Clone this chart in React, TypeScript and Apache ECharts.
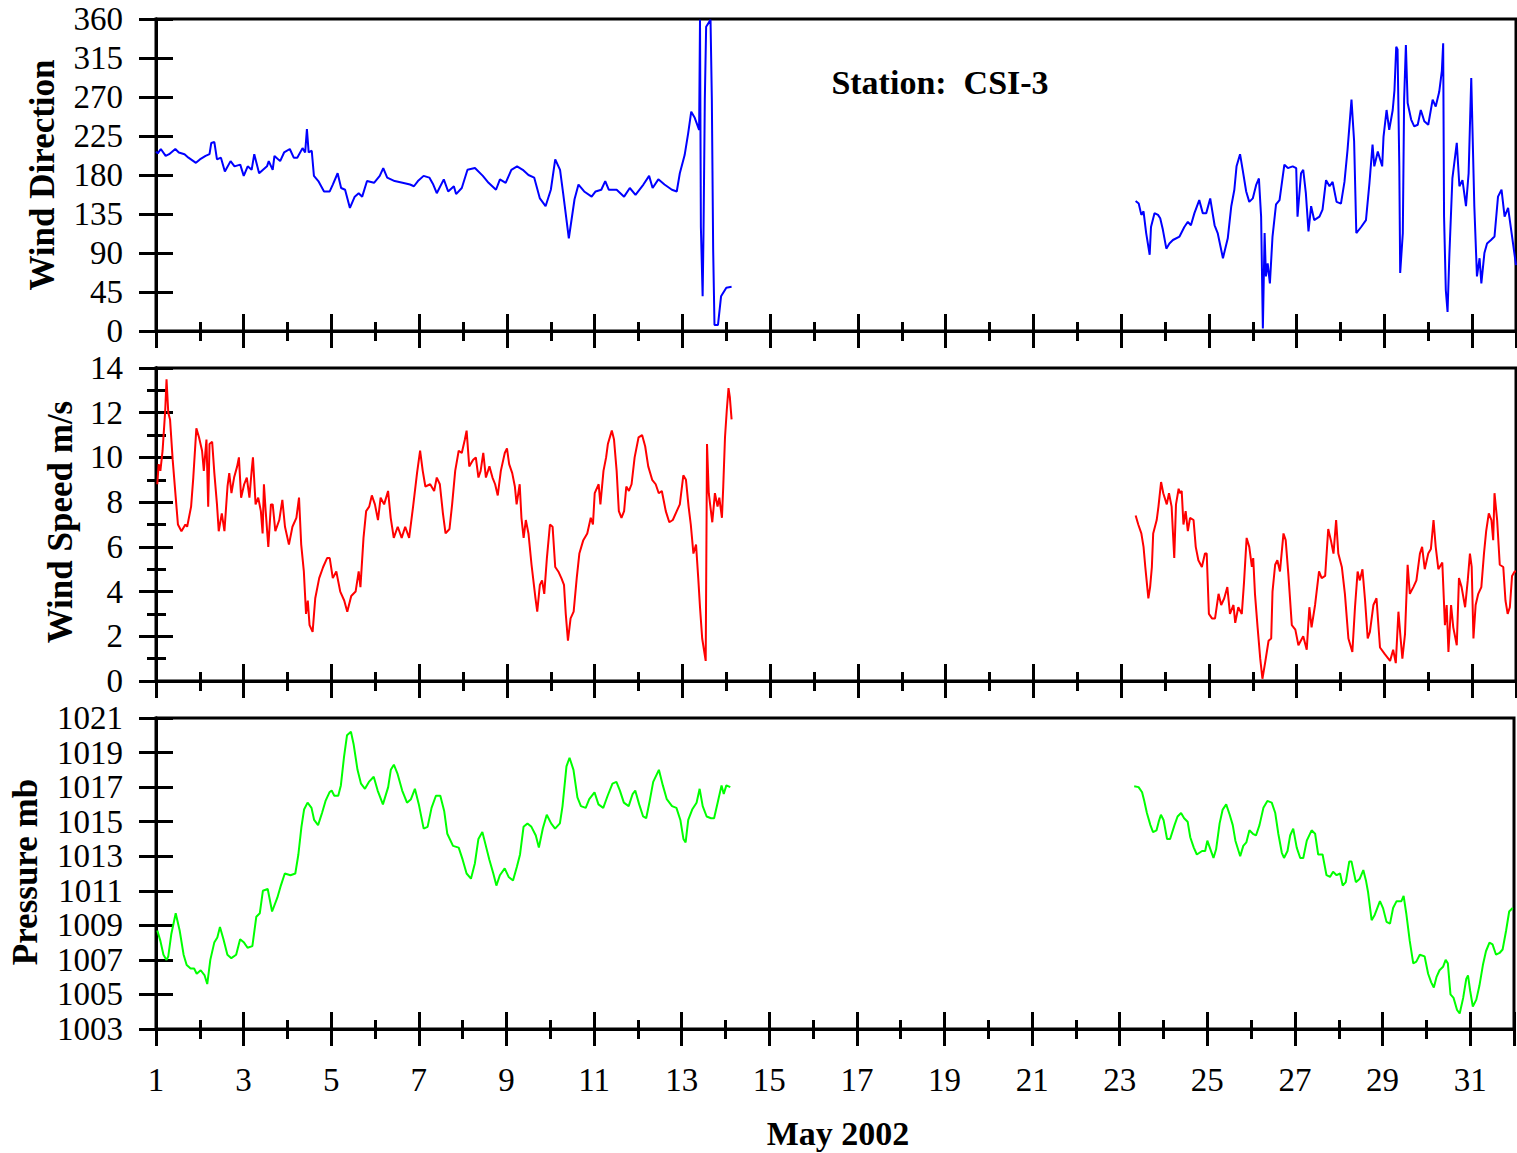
import React, { useEffect, useRef } from "react";
import * as echarts from "echarts";

const FONT = "'Liberation Serif', 'Times New Roman', Times, serif";

// x axis: days of May 2002
const DAY_MIN = 1;
const DAY_MAX = 32;

// Wind direction (deg) [day, value]
const dirA: number[][] = [
  [1.0, 207], [1.04, 205], [1.11, 210], [1.22, 202], [1.3, 204], [1.44, 210], [1.52, 206], [1.65, 204], [1.74, 200], [1.91, 194],
  [2.0, 198], [2.13, 202], [2.22, 204], [2.26, 217], [2.33, 218], [2.39, 198], [2.48, 200], [2.57, 184], [2.7, 196], [2.79, 190],
  [2.92, 192], [3.0, 179], [3.09, 190], [3.18, 186], [3.24, 204], [3.35, 182], [3.44, 186], [3.53, 190], [3.57, 196], [3.66, 186],
  [3.7, 202], [3.83, 196], [3.92, 206], [4.05, 210], [4.14, 200], [4.22, 200], [4.34, 211], [4.4, 206], [4.44, 233], [4.48, 206],
  [4.55, 208], [4.6, 179], [4.7, 173], [4.83, 161], [4.96, 161], [5.03, 169], [5.14, 182], [5.22, 165], [5.31, 163], [5.42, 142],
  [5.53, 155], [5.62, 159], [5.7, 155], [5.81, 173], [5.97, 171], [6.1, 179], [6.18, 188], [6.27, 177], [6.44, 173], [6.62, 171],
  [6.79, 169], [6.88, 167], [6.97, 173], [7.1, 179], [7.23, 177], [7.32, 169], [7.4, 159], [7.56, 175], [7.66, 161], [7.79, 167],
  [7.84, 158], [7.97, 165], [8.1, 186], [8.27, 188], [8.45, 179], [8.58, 171], [8.75, 163], [8.84, 175], [8.97, 171], [9.1, 186],
  [9.23, 190], [9.36, 186], [9.49, 180], [9.62, 177], [9.75, 153], [9.88, 144], [10.0, 163], [10.1, 198], [10.21, 186], [10.28, 159],
  [10.41, 107], [10.54, 152], [10.63, 169], [10.76, 161], [10.93, 155], [11.02, 161], [11.15, 163], [11.24, 173], [11.32, 163], [11.5, 163],
  [11.67, 155], [11.8, 165], [11.93, 157], [12.11, 169], [12.24, 179], [12.32, 165], [12.45, 175], [12.59, 169], [12.76, 163], [12.87, 161],
  [12.94, 182], [13.05, 203], [13.13, 228], [13.2, 253], [13.28, 246], [13.38, 232], [13.4, 359], [13.42, 120], [13.46, 40], [13.48, 113],
  [13.51, 267], [13.54, 351], [13.64, 359], [13.67, 267], [13.7, 94], [13.73, 7], [13.81, 7], [13.88, 40], [14.0, 50], [14.12, 51],
];
const dirB: number[][] = [
  [23.33, 150], [23.4, 147], [23.46, 134], [23.51, 138], [23.57, 113], [23.65, 88], [23.68, 120], [23.76, 136], [23.84, 134], [23.89, 130],
  [23.95, 117], [24.03, 95], [24.1, 101], [24.18, 105], [24.33, 109], [24.44, 120], [24.52, 126], [24.59, 122], [24.67, 136], [24.78, 151],
  [24.86, 136], [24.94, 136], [25.03, 153], [25.13, 122], [25.2, 113], [25.32, 84], [25.43, 107], [25.51, 144], [25.58, 163], [25.63, 190],
  [25.71, 204], [25.77, 186], [25.85, 161], [25.92, 149], [26.0, 153], [26.08, 169], [26.14, 176], [26.19, 132], [26.23, 3], [26.27, 113],
  [26.3, 63], [26.34, 78], [26.39, 55], [26.45, 109], [26.53, 146], [26.61, 151], [26.72, 192], [26.8, 188], [26.91, 190], [26.99, 188],
  [27.02, 132], [27.1, 182], [27.15, 186], [27.21, 159], [27.27, 115], [27.33, 144], [27.4, 128], [27.52, 132], [27.59, 140], [27.67, 174],
  [27.75, 167], [27.82, 172], [27.91, 149], [28.01, 147], [28.09, 172], [28.16, 209], [28.25, 267], [28.31, 219], [28.36, 113], [28.47, 120],
  [28.58, 128], [28.66, 171], [28.73, 215], [28.77, 190], [28.85, 207], [28.95, 190], [28.98, 224], [29.05, 255], [29.11, 232], [29.19, 255],
  [29.23, 278], [29.27, 328], [29.3, 325], [29.34, 190], [29.36, 67], [29.42, 113], [29.45, 267], [29.49, 330], [29.53, 263], [29.61, 244],
  [29.68, 236], [29.76, 238], [29.83, 255], [29.91, 242], [30.0, 238], [30.1, 267], [30.17, 259], [30.25, 276], [30.31, 300], [30.34, 332],
  [30.36, 132], [30.4, 47], [30.44, 22], [30.48, 86], [30.55, 176], [30.65, 217], [30.71, 167], [30.78, 174], [30.86, 144], [30.92, 182],
  [30.98, 292], [31.05, 144], [31.11, 63], [31.17, 84], [31.21, 55], [31.28, 90], [31.34, 101], [31.43, 105], [31.51, 109], [31.59, 155],
  [31.67, 163], [31.74, 132], [31.82, 142], [31.9, 113], [32.0, 76],
];

// Wind speed (m/s) [day, value]
const spdA: number[][] = [
  [1.03, 8.8], [1.06, 9.7], [1.1, 9.4], [1.15, 10.3], [1.18, 11.2], [1.21, 12.1], [1.24, 13.5], [1.28, 12.0], [1.32, 11.7], [1.38, 9.9],
  [1.45, 8.2], [1.5, 7.0], [1.58, 6.7], [1.67, 7.0], [1.71, 6.9], [1.8, 7.8], [1.85, 9.1], [1.92, 11.3], [1.98, 10.9], [2.05, 10.3],
  [2.09, 9.4], [2.15, 10.8], [2.19, 7.8], [2.22, 10.6], [2.28, 10.7], [2.33, 9.3], [2.39, 7.9], [2.43, 6.7], [2.5, 7.5], [2.56, 6.7],
  [2.63, 8.7], [2.67, 9.3], [2.72, 8.4], [2.78, 9.1], [2.85, 9.6], [2.89, 10.0], [2.94, 8.2], [3.01, 8.8], [3.07, 9.1], [3.13, 8.2],
  [3.18, 9.4], [3.21, 10.0], [3.27, 7.9], [3.33, 8.2], [3.39, 7.6], [3.43, 6.6], [3.46, 8.8], [3.5, 7.6], [3.56, 6.0], [3.62, 7.9],
  [3.66, 7.9], [3.72, 6.7], [3.81, 7.2], [3.88, 8.1], [3.94, 6.9], [4.03, 6.1], [4.11, 6.9], [4.2, 7.3], [4.26, 8.2], [4.31, 6.1],
  [4.37, 4.9], [4.42, 3.0], [4.46, 3.6], [4.5, 2.5], [4.57, 2.2], [4.63, 3.7], [4.72, 4.6], [4.81, 5.1], [4.9, 5.5], [4.96, 5.5],
  [5.03, 4.6], [5.11, 4.9], [5.2, 4.0], [5.29, 3.6], [5.36, 3.1], [5.45, 3.8], [5.55, 4.0], [5.62, 4.9], [5.66, 4.2], [5.73, 6.4],
  [5.79, 7.6], [5.86, 7.8], [5.92, 8.3], [5.99, 7.9], [6.06, 7.2], [6.12, 8.2], [6.2, 7.9], [6.29, 8.5], [6.35, 7.3], [6.42, 6.4],
  [6.51, 6.9], [6.6, 6.4], [6.68, 6.9], [6.77, 6.4], [6.86, 7.8], [6.95, 9.3], [7.02, 10.3], [7.08, 9.4], [7.14, 8.7], [7.25, 8.8],
  [7.34, 8.5], [7.4, 9.1], [7.47, 8.8], [7.54, 7.5], [7.6, 6.6], [7.69, 6.8], [7.75, 7.9], [7.82, 9.4], [7.9, 10.3], [7.97, 10.2],
  [8.04, 10.8], [8.08, 11.2], [8.14, 9.6], [8.23, 9.9], [8.29, 10.0], [8.35, 9.1], [8.4, 9.4], [8.46, 10.2], [8.52, 9.1], [8.6, 9.6],
  [8.67, 9.1], [8.73, 8.8], [8.79, 8.3], [8.86, 9.4], [8.95, 10.2], [9.0, 10.4], [9.05, 9.7], [9.12, 9.3], [9.18, 8.7], [9.22, 7.9],
  [9.29, 8.8], [9.33, 7.3], [9.38, 6.4], [9.43, 7.2], [9.49, 6.6], [9.56, 5.2], [9.65, 3.7], [9.69, 3.1], [9.75, 4.3], [9.8, 4.5],
  [9.85, 3.9], [9.91, 5.5], [9.98, 7.0], [10.04, 6.9], [10.1, 5.1], [10.17, 4.9], [10.24, 4.6], [10.3, 4.3], [10.34, 3.0], [10.39, 1.8],
  [10.45, 2.8], [10.52, 3.1], [10.59, 4.6], [10.65, 5.7], [10.74, 6.3], [10.83, 6.6], [10.91, 7.3], [10.96, 7.0], [11.0, 8.4], [11.09, 8.8],
  [11.13, 7.9], [11.2, 9.4], [11.26, 10.0], [11.3, 10.6], [11.39, 11.2], [11.44, 10.8], [11.5, 9.4], [11.55, 7.6], [11.61, 7.3], [11.67, 7.6],
  [11.72, 8.7], [11.78, 8.5], [11.84, 8.8], [11.91, 10.0], [12.0, 10.9], [12.08, 11.0], [12.15, 10.5], [12.22, 9.6], [12.31, 9.0], [12.39, 8.8],
  [12.46, 8.4], [12.53, 8.5], [12.62, 7.6], [12.7, 7.1], [12.78, 7.2], [12.87, 7.6], [12.94, 7.9], [13.02, 9.2], [13.08, 9.0], [13.14, 7.8],
  [13.19, 7.0], [13.25, 5.7], [13.31, 6.1], [13.36, 4.6], [13.4, 3.3], [13.45, 1.9], [13.53, 0.9], [13.56, 10.6], [13.6, 8.4], [13.68, 7.1],
  [13.74, 8.4], [13.8, 7.8], [13.84, 8.2], [13.9, 7.3], [13.93, 8.7], [13.97, 10.9], [14.01, 12.1], [14.05, 13.1], [14.08, 12.7], [14.12, 11.7],
];
const spdB: number[][] = [
  [23.33, 7.4], [23.39, 7.0], [23.46, 6.6], [23.51, 6.0], [23.55, 5.1], [23.58, 4.5], [23.62, 3.7], [23.66, 4.2], [23.7, 5.1], [23.73, 6.6],
  [23.81, 7.2], [23.85, 7.8], [23.91, 8.9], [23.96, 8.4], [24.04, 7.9], [24.09, 8.4], [24.15, 7.8], [24.21, 5.5], [24.25, 7.9], [24.31, 8.6],
  [24.34, 8.4], [24.38, 8.5], [24.42, 7.0], [24.47, 7.6], [24.52, 6.7], [24.57, 7.3], [24.65, 7.2], [24.7, 6.0], [24.76, 5.4], [24.84, 5.1],
  [24.91, 5.7], [24.95, 5.7], [25.0, 3.0], [25.07, 2.8], [25.14, 2.8], [25.22, 3.9], [25.28, 3.4], [25.35, 3.7], [25.42, 4.2], [25.48, 3.0],
  [25.56, 3.4], [25.6, 2.6], [25.67, 3.3], [25.75, 3.0], [25.8, 4.4], [25.86, 6.4], [25.92, 6.0], [25.98, 5.1], [26.01, 5.5], [26.05, 3.9],
  [26.11, 2.4], [26.17, 1.0], [26.22, 0.1], [26.28, 0.8], [26.36, 1.8], [26.42, 1.9], [26.45, 4.0], [26.51, 5.2], [26.56, 5.4], [26.62, 4.9],
  [26.7, 6.6], [26.75, 6.3], [26.81, 4.8], [26.89, 2.5], [26.97, 2.3], [27.04, 1.6], [27.15, 2.0], [27.23, 1.4], [27.29, 3.3], [27.34, 2.4],
  [27.42, 3.4], [27.51, 4.9], [27.57, 4.6], [27.65, 4.7], [27.72, 6.8], [27.78, 6.3], [27.84, 5.7], [27.9, 7.2], [27.95, 5.7], [28.03, 5.1],
  [28.1, 3.9], [28.18, 1.9], [28.27, 1.3], [28.33, 3.3], [28.39, 4.9], [28.44, 4.5], [28.5, 5.0], [28.56, 3.6], [28.62, 1.9], [28.67, 2.2],
  [28.75, 3.4], [28.82, 3.7], [28.9, 1.5], [29.01, 1.2], [29.13, 0.9], [29.2, 1.4], [29.26, 0.8], [29.32, 3.1], [29.37, 1.9], [29.41, 1.0],
  [29.47, 2.1], [29.53, 5.2], [29.58, 3.9], [29.66, 4.2], [29.73, 4.5], [29.81, 5.7], [29.86, 6.0], [29.92, 5.0], [30.0, 5.7], [30.06, 5.9],
  [30.12, 7.2], [30.17, 6.0], [30.23, 5.0], [30.32, 5.3], [30.38, 2.5], [30.42, 3.4], [30.46, 1.3], [30.52, 3.4], [30.57, 2.4], [30.65, 1.6],
  [30.7, 4.6], [30.76, 4.2], [30.84, 3.3], [30.9, 4.5], [30.95, 5.7], [30.99, 5.1], [31.03, 1.9], [31.08, 3.4], [31.14, 3.9], [31.21, 4.2],
  [31.27, 5.7], [31.32, 6.7], [31.38, 7.5], [31.44, 7.2], [31.48, 6.3], [31.51, 8.4], [31.57, 7.2], [31.63, 5.2], [31.71, 5.1], [31.76, 3.6],
  [31.81, 3.0], [31.86, 3.3], [31.91, 4.7], [31.97, 4.9], [32.0, 4.9],
];

// Pressure (mb) [day, value]
const presA: number[][] = [
  [1.03, 1008.7], [1.1, 1008.1], [1.17, 1007.3], [1.24, 1007.0], [1.28, 1007.2], [1.35, 1008.5], [1.45, 1009.7], [1.54, 1008.7], [1.63, 1007.3], [1.7, 1006.7],
  [1.79, 1006.5], [1.87, 1006.5], [1.93, 1006.2], [2.02, 1006.4], [2.11, 1006.1], [2.17, 1005.6], [2.24, 1007.0], [2.33, 1008.0], [2.4, 1008.3], [2.46, 1008.9],
  [2.54, 1008.2], [2.63, 1007.3], [2.72, 1007.1], [2.83, 1007.3], [2.92, 1008.2], [3.01, 1008.0], [3.09, 1007.7], [3.2, 1007.8], [3.29, 1009.5], [3.37, 1009.7],
  [3.44, 1011.0], [3.55, 1011.1], [3.65, 1009.8], [3.77, 1010.6], [3.85, 1011.3], [3.94, 1012.0], [4.07, 1011.9], [4.18, 1012.0], [4.25, 1013.1], [4.32, 1014.7],
  [4.38, 1015.7], [4.46, 1016.1], [4.55, 1015.8], [4.61, 1015.1], [4.7, 1014.8], [4.79, 1015.5], [4.87, 1016.2], [4.96, 1016.7], [5.01, 1016.8], [5.07, 1016.5],
  [5.16, 1016.5], [5.22, 1017.1], [5.29, 1018.7], [5.36, 1020.0], [5.45, 1020.2], [5.51, 1019.5], [5.6, 1018.0], [5.68, 1017.2], [5.77, 1016.9], [5.86, 1017.3],
  [5.97, 1017.6], [6.06, 1016.8], [6.18, 1016.0], [6.3, 1017.0], [6.36, 1018.0], [6.43, 1018.3], [6.51, 1017.8], [6.62, 1016.8], [6.73, 1016.1], [6.82, 1016.3],
  [6.91, 1016.9], [7.0, 1016.0], [7.11, 1014.6], [7.2, 1014.7], [7.29, 1015.8], [7.39, 1016.5], [7.49, 1016.5], [7.58, 1015.6], [7.65, 1014.3], [7.78, 1013.6],
  [7.91, 1013.5], [8.0, 1012.8], [8.09, 1012.0], [8.19, 1011.7], [8.28, 1012.6], [8.36, 1014.0], [8.45, 1014.4], [8.52, 1013.7], [8.61, 1012.8], [8.7, 1012.0],
  [8.77, 1011.3], [8.85, 1011.9], [8.96, 1012.3], [9.05, 1011.8], [9.15, 1011.6], [9.24, 1012.4], [9.31, 1013.1], [9.39, 1014.7], [9.48, 1014.9], [9.57, 1014.7],
  [9.67, 1014.2], [9.74, 1013.5], [9.83, 1014.6], [9.92, 1015.4], [10.02, 1014.9], [10.11, 1014.6], [10.22, 1014.9], [10.28, 1015.9], [10.37, 1018.2], [10.44, 1018.7],
  [10.53, 1018.0], [10.62, 1016.4], [10.7, 1015.9], [10.81, 1015.8], [10.89, 1016.3], [11.01, 1016.7], [11.1, 1016.0], [11.21, 1015.8], [11.31, 1016.5], [11.42, 1017.2],
  [11.51, 1017.3], [11.59, 1016.8], [11.68, 1016.1], [11.79, 1015.9], [11.88, 1016.6], [11.94, 1016.8], [12.03, 1016.0], [12.12, 1015.3], [12.19, 1015.2], [12.27, 1016.2],
  [12.35, 1017.3], [12.48, 1018.0], [12.57, 1017.1], [12.66, 1016.3], [12.78, 1015.9], [12.88, 1015.8], [12.97, 1015.1], [13.04, 1014.0], [13.09, 1013.8], [13.15, 1015.1],
  [13.24, 1015.7], [13.34, 1016.1], [13.41, 1016.9], [13.48, 1015.9], [13.57, 1015.3], [13.67, 1015.2], [13.74, 1015.2], [13.83, 1016.2], [13.91, 1017.1], [13.96, 1016.6],
  [14.02, 1017.1], [14.11, 1017.0],
];
const presB: number[][] = [
  [23.33, 1017.05], [23.43, 1017.0], [23.51, 1016.7], [23.56, 1016.2], [23.62, 1015.5], [23.7, 1014.8], [23.76, 1014.4], [23.84, 1014.5], [23.89, 1015.0], [23.94, 1015.4],
  [24.0, 1015.1], [24.08, 1014.0], [24.15, 1014.0], [24.25, 1014.8], [24.32, 1015.3], [24.4, 1015.5], [24.47, 1015.2], [24.55, 1015.0], [24.61, 1014.1], [24.69, 1013.5],
  [24.76, 1013.1], [24.88, 1013.3], [24.95, 1013.3], [25.0, 1013.9], [25.07, 1013.4], [25.14, 1012.9], [25.2, 1013.4], [25.28, 1014.9], [25.35, 1015.7], [25.43, 1016.0],
  [25.51, 1015.4], [25.58, 1014.8], [25.64, 1013.9], [25.75, 1013.0], [25.82, 1013.6], [25.89, 1013.8], [25.96, 1014.5], [26.04, 1014.3], [26.11, 1014.2], [26.19, 1014.8],
  [26.28, 1015.8], [26.37, 1016.2], [26.47, 1016.1], [26.55, 1015.5], [26.62, 1014.3], [26.7, 1013.2], [26.75, 1012.9], [26.83, 1013.3], [26.89, 1014.2], [26.96, 1014.6],
  [27.04, 1013.5], [27.12, 1012.9], [27.19, 1012.9], [27.27, 1013.9], [27.38, 1014.5], [27.46, 1014.3], [27.53, 1013.1], [27.63, 1013.1], [27.72, 1011.9], [27.8, 1011.8],
  [27.87, 1012.1], [27.95, 1011.9], [28.03, 1012.0], [28.09, 1011.3], [28.16, 1011.5], [28.24, 1012.7], [28.29, 1012.7], [28.39, 1011.5], [28.48, 1011.7], [28.56, 1012.2],
  [28.62, 1011.6], [28.67, 1010.9], [28.75, 1009.3], [28.82, 1009.6], [28.94, 1010.4], [29.01, 1010.0], [29.09, 1009.2], [29.17, 1009.1], [29.24, 1010.0], [29.32, 1010.4],
  [29.43, 1010.4], [29.48, 1010.7], [29.54, 1009.7], [29.62, 1008.1], [29.7, 1006.8], [29.77, 1006.9], [29.85, 1007.3], [29.96, 1007.2], [30.04, 1006.2], [30.11, 1005.7],
  [30.17, 1005.4], [30.23, 1006.0], [30.3, 1006.4], [30.38, 1006.6], [30.44, 1007.0], [30.49, 1006.8], [30.55, 1005.0], [30.62, 1004.8], [30.7, 1004.1], [30.76, 1003.9],
  [30.84, 1004.8], [30.91, 1005.9], [30.95, 1006.1], [31.0, 1005.2], [31.06, 1004.3], [31.14, 1004.7], [31.21, 1005.5], [31.29, 1006.7], [31.36, 1007.5], [31.44, 1008.0],
  [31.51, 1007.9], [31.59, 1007.3], [31.67, 1007.4], [31.74, 1007.6], [31.82, 1008.7], [31.89, 1009.8], [31.97, 1010.0],
];

const TITLE = "Station:  CSI-3";
const X_TITLE = "May 2002";
const Y_TITLES = ["Wind Direction", "Wind Speed m/s", "Pressure mb"];

const BLACK = "#000";
const TICK_FONT = 33;

function buildOption() {
  const grids = [
    { left: 156, top: 19, width: 1360, height: 312 },
    { left: 156, top: 368, width: 1360, height: 313 },
    { left: 156, top: 718, width: 1360, height: 311 },
  ].map((g) => ({ ...g, show: true, borderColor: BLACK, borderWidth: 3, backgroundColor: "transparent" }));

  const xAxes: any[] = [];
  for (let g = 0; g < 3; g++) {
    const base = {
      type: "value",
      gridIndex: g,
      min: DAY_MIN,
      max: DAY_MAX,
      splitLine: { show: false },
      axisLine: { show: true, onZero: false, lineStyle: { color: BLACK, width: 3 } },
      axisLabel: { show: false },
      position: "bottom",
    };
    xAxes.push({ ...base, interval: 2, axisTick: { show: true, inside: true, length: 17, lineStyle: { color: BLACK, width: 3 } } });
    xAxes.push({
      ...base,
      interval: 2,
      axisTick: { show: true, inside: false, length: 17, lineStyle: { color: BLACK, width: 3 } },
      axisLabel:
        g === 2
          ? {
              show: true,
              margin: 34,
              fontSize: TICK_FONT,
              fontFamily: FONT,
              color: BLACK,
              showMinLabel: true,
              showMaxLabel: true,
              formatter: (v: number) => (v >= DAY_MAX ? "" : String(v)),
            }
          : { show: false },
    });
    xAxes.push({ ...base, interval: 1, axisTick: { show: true, inside: true, length: 9, lineStyle: { color: BLACK, width: 3 } } });
    xAxes.push({ ...base, interval: 1, axisTick: { show: true, inside: false, length: 10, lineStyle: { color: BLACK, width: 3 } } });
  }

  const yDefs = [
    { min: 0, max: 360, interval: 45, minor: 0 },
    { min: 0, max: 14, interval: 2, minor: 1 },
    { min: 1003, max: 1021, interval: 2, minor: 0 },
  ];
  const yAxes: any[] = [];
  const yMain: number[] = [];
  yDefs.forEach((d, g) => {
    const base = {
      type: "value",
      gridIndex: g,
      min: d.min,
      max: d.max,
      position: "left",
      splitLine: { show: false },
      axisLine: { show: true, onZero: false, lineStyle: { color: BLACK, width: 3 } },
      axisLabel: { show: false },
    };
    yMain.push(yAxes.length);
    yAxes.push({ ...base, interval: d.interval, axisTick: { show: true, inside: true, length: 17, lineStyle: { color: BLACK, width: 3 } } });
    yAxes.push({
      ...base,
      interval: d.interval,
      axisTick: { show: true, inside: false, length: 17, lineStyle: { color: BLACK, width: 3 } },
      axisLabel: {
        show: true,
        margin: 33,
        fontSize: TICK_FONT,
        fontFamily: FONT,
        color: BLACK,
        showMinLabel: true,
        showMaxLabel: true,
        padding: [6, 0, 0, 0],
        formatter: (v: number) => String(v),
      },
    });
    if (d.minor) {
      yAxes.push({ ...base, interval: d.minor, axisTick: { show: true, inside: true, length: 10, lineStyle: { color: BLACK, width: 3 } } });
      yAxes.push({ ...base, interval: d.minor, axisTick: { show: true, inside: false, length: 9, lineStyle: { color: BLACK, width: 3 } } });
    }
  });

  const mk = (data: number[][], g: number, color: string) => ({
    type: "line",
    xAxisIndex: g * 4,
    yAxisIndex: yMain[g],
    data,
    showSymbol: false,
    symbol: "none",
    smooth: false,
    lineStyle: { color, width: 2 },
    z: 1,
  });

  const series = [
    mk(dirA, 0, "#0000FF"),
    mk(dirB, 0, "#0000FF"),
    mk(spdA, 1, "#FF0000"),
    mk(spdB, 1, "#FF0000"),
    mk(presA, 2, "#00FF00"),
    mk(presB, 2, "#00FF00"),
  ];

  const txt = (text: string, x: number, y: number, size: number, rot = 0) => ({
    type: "text",
    x,
    y,
    rotation: rot,
    style: {
      text,
      fill: BLACK,
      fontSize: size,
      fontWeight: "bold",
      fontFamily: FONT,
      textAlign: "center",
      textVerticalAlign: "middle",
    },
  });

  return {
    animation: false,
    backgroundColor: "#fff",
    grid: grids,
    xAxis: xAxes,
    yAxis: yAxes,
    series,
    graphic: [
      txt(TITLE, 940, 82, 34),
      txt(X_TITLE, 838, 1133, 34),
      txt(Y_TITLES[0], 42, 175, 35, Math.PI / 2),
      txt(Y_TITLES[1], 60, 522, 35, Math.PI / 2),
      txt(Y_TITLES[2], 25, 872, 35, Math.PI / 2),
    ],
  };
}

export default function App() {
  const ref = useRef<HTMLDivElement>(null);
  useEffect(() => {
    if (!ref.current) return;
    const chart = echarts.init(ref.current, undefined, { renderer: "svg" });
    chart.setOption(buildOption() as any);
    return () => chart.dispose();
  }, []);
  return (
    <div
      ref={ref}
      style={{ position: "absolute", left: 0, top: 0, width: 1517, height: 1153, background: "#fff" }}
    />
  );
}
